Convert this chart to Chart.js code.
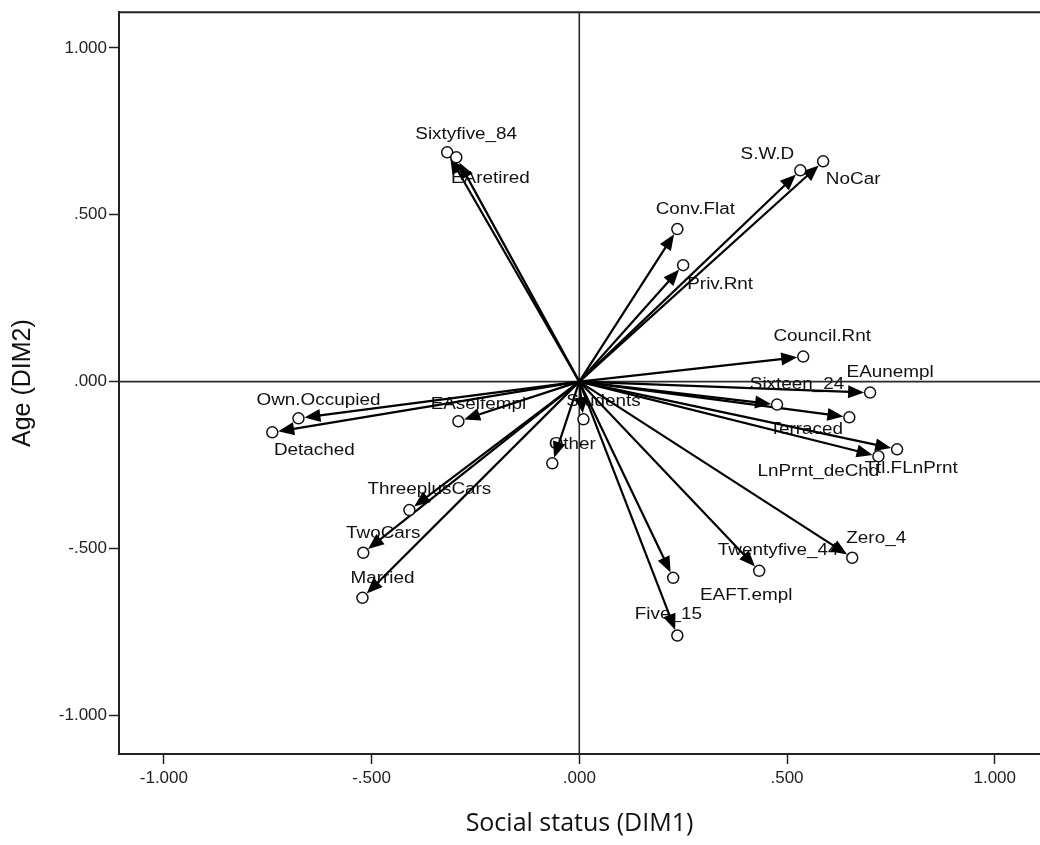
<!DOCTYPE html>
<html>
<head>
<meta charset="utf-8">
<title>Social status vs Age</title>
<script src="https://cdn.jsdelivr.net/npm/chart.js@4.4.1/dist/chart.umd.min.js"></script>
<style>
  html, body { margin: 0; padding: 0; background: #fff; }
  #chart { display: block; }
</style>
</head>
<body>
<canvas id="chart" width="1040" height="845"></canvas>
<script>
// Variable names and their two dimension coordinates
const labels = ["Sixtyfive_84", "EAretired", "S.W.D", "NoCar", "Conv.Flat", "Priv.Rnt",
  "Council.Rnt", "EAunempl", "Sixteen_24", "Terraced", "Ttl.FLnPrnt", "LnPrnt_deChd",
  "Zero_4", "Twentyfive_44", "EAFT.empl", "Five_15", "Students", "Other",
  "EAselfempl", "Own.Occupied", "Detached", "ThreeplusCars", "TwoCars", "Married"];
const dim1 = [-0.318, -0.296, 0.532, 0.587, 0.236, 0.250,
  0.539, 0.700, 0.476, 0.650, 0.765, 0.720,
  0.657, 0.433, 0.226, 0.236, 0.010, -0.065,
  -0.291, -0.676, -0.739, -0.409, -0.520, -0.522];
const dim2 = [0.687, 0.672, 0.633, 0.660, 0.457, 0.349,
  0.075, -0.033, -0.069, -0.107, -0.203, -0.224,
  -0.528, -0.567, -0.588, -0.761, -0.113, -0.245,
  -0.119, -0.110, -0.152, -0.385, -0.513, -0.648];
const xTicks = [-1, -0.5, 0, 0.5, 1];
const yTicks = [-1, -0.5, 0, 0.5, 1];

// where each label sits relative to its circle (pixels)
const labelNudge = [[19, -18], [34, 21], [-33, -16], [30, 18], [18, -20], [37, 19],
  [19, -20], [20, -20], [20, -20], [-43, 12], [14, 19], [-60, 15],
  [24, -19], [19, -20], [73, 18], [-9, -21], [20, -18], [20, -19],
  [20, -17], [20, -18], [42, 18], [20, -20], [20, -19], [20, -19]];

// SPSS style tick labels: 1.000, .500, .000, -.500
function fmt(v) {
  const s = Math.abs(v).toFixed(3).replace(/^0/, "");
  return (v < 0 ? "-" : "") + s;
}

const biplotPlugin = {
  id: "biplot",
  beforeDatasetsDraw(chart) {
    const { ctx, chartArea, scales: { x, y } } = chart;
    const ox = x.getPixelForValue(0);
    const oy = y.getPixelForValue(0);

    ctx.save();
    // top frame line
    ctx.strokeStyle = "#222";
    ctx.lineWidth = 2;
    ctx.beginPath();
    ctx.moveTo(chartArea.left, chartArea.top);
    ctx.lineTo(chartArea.right, chartArea.top);
    ctx.stroke();

    // reference lines through zero
    ctx.strokeStyle = "#2a2a2a";
    ctx.lineWidth = 1.6;
    ctx.beginPath();
    ctx.moveTo(ox, chartArea.top);
    ctx.lineTo(ox, chartArea.bottom);
    ctx.moveTo(chartArea.left, oy);
    ctx.lineTo(chartArea.right, oy);
    ctx.stroke();

    // labels
    ctx.font = '16px "Liberation Sans", Arial, sans-serif';
    ctx.textAlign = "center";
    ctx.textBaseline = "middle";
    ctx.fillStyle = "#111";
    labels.forEach((txt, i) => {
      const px = x.getPixelForValue(dim1[i]);
      const py = y.getPixelForValue(dim2[i]);
      const [dx, dy] = labelNudge[i];
      ctx.save();
      ctx.translate(px + dx, py + dy);
      ctx.scale(1.18, 1);
      ctx.fillText(txt, 0, 0);
      ctx.restore();
    });

    // arrows from origin to each point
    ctx.strokeStyle = "#000";
    ctx.fillStyle = "#000";
    ctx.lineWidth = 2.2;
    const r = 6, headLen = 16, headHalf = 6.5;
    dim1.forEach((v, i) => {
      const tx = x.getPixelForValue(v);
      const ty = y.getPixelForValue(dim2[i]);
      const ang = Math.atan2(ty - oy, tx - ox);
      const c = Math.cos(ang), s = Math.sin(ang);
      const tipX = tx - c * r, tipY = ty - s * r;
      const bx = tipX - c * headLen, by = tipY - s * headLen;
      ctx.beginPath();
      ctx.moveTo(ox, oy);
      ctx.lineTo(bx + c * 2, by + s * 2);
      ctx.stroke();
      ctx.beginPath();
      ctx.moveTo(tipX, tipY);
      ctx.lineTo(bx - s * headHalf, by + c * headHalf);
      ctx.lineTo(bx + s * headHalf, by - c * headHalf);
      ctx.closePath();
      ctx.fill();
    });
    ctx.restore();
  }
};

const ctx = document.getElementById("chart").getContext("2d");
new Chart(ctx, {
  type: "scatter",
  data: {
    datasets: [{
      label: "Variables",
      data: dim1.map((v, i) => ({ x: v, y: dim2[i] })),
      pointRadius: 5.5,
      pointHoverRadius: 5.5,
      pointBackgroundColor: "#fff",
      pointBorderColor: "#111",
      pointBorderWidth: 1.5
    }]
  },
  options: {
    responsive: false,
    devicePixelRatio: 1,
    animation: false,
    layout: { autoPadding: false, padding: { top: 9, right: 0, left: 0, bottom: 0 } },
    plugins: {
      legend: { display: false },
      tooltip: { enabled: false }
    },
    scales: {
      x: {
        type: "linear",
        position: "bottom",
        min: -1.108,
        max: 1.109,
        afterBuildTicks: (s) => { s.ticks = xTicks.map(v => ({ value: v })); },
        afterFit: (s) => { s.height = 91; },
        ticks: {
          callback: (v) => fmt(v),
          font: { family: '"Liberation Sans", Arial, sans-serif', size: 17 },
          color: "#222",
          padding: 4,
          maxRotation: 0
        },
        grid: { display: true, drawOnChartArea: false, drawTicks: true, tickLength: 10, tickWidth: 1.5, tickColor: "#222" },
        border: { display: true, color: "#222", width: 2 },
        title: {
          display: true,
          text: "Social status (DIM1)",
          font: { family: '"Open Sans", sans-serif', size: 25 },
          color: "#111",
          padding: { top: 0, bottom: 6 }
        }
      },
      y: {
        type: "linear",
        min: -1.116,
        max: 1.107,
        afterBuildTicks: (s) => { s.ticks = yTicks.map(v => ({ value: v })); },
        afterFit: (s) => { s.width = 119; },
        ticks: {
          callback: (v) => fmt(v),
          font: { family: '"Liberation Sans", Arial, sans-serif', size: 17 },
          color: "#222",
          padding: 2
        },
        grid: { display: true, drawOnChartArea: false, drawTicks: true, tickLength: 10, tickWidth: 1.5, tickColor: "#222" },
        border: { display: true, color: "#222", width: 2 },
        title: {
          display: true,
          text: "Age (DIM2)",
          font: { family: '"Liberation Sans", Arial, sans-serif', size: 25 },
          color: "#111",
          padding: { top: 8, bottom: 0 }
        }
      }
    }
  },
  plugins: [biplotPlugin]
});
</script>
</body>
</html>
